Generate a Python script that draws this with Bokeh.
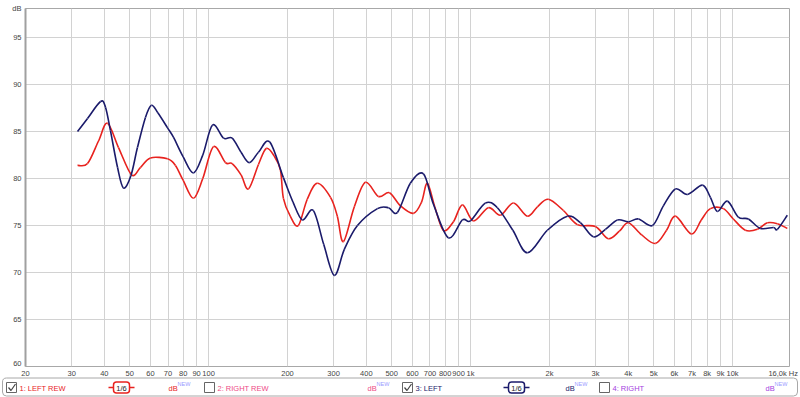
import math
from bokeh.plotting import figure
from bokeh.models import Range1d, FixedTicker, LinearScale
from bokeh.layouts import column
from bokeh.core.properties import value
from bokeh.embed import file_html
from bokeh.resources import INLINE

# ---------------- data ----------------
left_rew_freq = [31.6, 34.5, 38.0, 41.1, 45.3, 50.8, 55.0, 60.0, 69.7, 74.7, 80.0, 87.5, 95.0,
                 104.4, 116, 123, 133, 142, 155, 166, 178, 188, 193, 205, 220, 238, 260, 292, 310,
                 327, 360, 397, 445, 490, 540, 605, 650, 684, 730, 787, 860, 931, 1026, 1170,
                 1300, 1458, 1648, 1800, 1982, 2262, 2558, 2996, 3358, 3700, 4004, 4500, 5078,
                 5600, 6054, 6968, 7600, 8232, 9228, 10076, 11196, 12446, 13584, 14830, 16190]
left_rew_db = [81.4, 81.6, 84.0, 85.9, 83.3, 80.4, 81.2, 82.2, 82.1, 81.4, 79.8, 77.9, 80.0,
               83.4, 81.7, 81.6, 80.4, 78.9, 81.5, 83.2, 82.4, 80.9, 77.9, 76.0, 75.0, 77.8, 79.5,
               78.0, 76.0, 73.3, 77.0, 79.6, 78.1, 78.5, 77.1, 76.3, 77.5, 79.5, 77.0, 74.5, 75.4,
               77.2, 75.5, 76.9, 76.1, 77.4, 76.0, 77.0, 77.8, 76.6, 75.1, 74.9, 73.6, 74.4, 75.3,
               74.0, 73.1, 74.5, 76.0, 74.1, 75.6, 76.8, 76.8, 75.7, 74.5, 74.6, 75.3, 75.2, 74.7]

left_freq = [31.6, 34.5, 38.7, 40.4, 42.2, 44.9, 47.3, 50.5, 53.5, 57.4, 60.5, 64.0, 69.7, 73.4,
             80.0, 87.5, 95.0, 103.5, 114, 123, 133, 143, 155, 171, 193, 210, 228, 251, 275, 302,
             330, 370, 441, 486, 526, 589, 661, 721, 823, 931, 999, 1140, 1266, 1450, 1648,
             1964, 2342, 2626, 2944, 3272, 3636, 4004, 4374, 4944, 5446, 6054, 6728, 7674,
             8232, 8754, 9558, 10528, 11500, 12772, 14320, 14830, 16190]
left_db = [85.0, 86.4, 88.2, 87.6, 85.1, 81.2, 79.0, 80.3, 83.3, 86.5, 87.8, 87.0, 85.4, 84.4,
           82.3, 80.6, 82.5, 85.7, 84.3, 84.3, 82.8, 81.7, 82.8, 83.9, 80.1, 77.5, 75.6, 76.6,
           73.0, 69.7, 72.5, 75.0, 76.8, 76.9, 76.4, 79.5, 80.5, 77.3, 73.7, 75.6, 75.5, 77.4,
           76.9, 74.5, 72.1, 74.5, 76.0, 75.3, 73.8, 74.6, 75.6, 75.4, 75.7, 75.0, 77.1, 78.9,
           78.3, 79.3, 78.0, 76.5, 77.6, 75.9, 75.7, 74.7, 74.8, 74.6, 76.1]

x_ticks = [20, 30, 40, 50, 60, 70, 80, 90, 100, 200, 300, 400, 500, 600, 700, 800, 900,
           1000, 2000, 3000, 4000, 5000, 6000, 7000, 8000, 9000, 10000]
x_tick_labels = ["20", "30", "40", "50", "60", "70", "80", "90", "100", "200", "300", "400",
                 "500", "600", "700", "800", "900", "1k", "2k", "3k", "4k", "5k", "6k", "7k",
                 "8k", "9k", "10k"]
x_end_label = "16,0k Hz"
x_end_value = 16000
y_ticks = [60, 65, 70, 75, 80, 85, 90, 95]
y_unit = "dB"

legend_names = ["1: LEFT REW", "2: RIGHT REW", "3: LEFT", "4: RIGHT"]
legend_colors = ["#e8231f", "#ee4a86", "#1b1b6b", "#a43ee0"]
legend_checked = [True, False, True, False]

FONT = "Liberation Sans"

# geometry of the plotting frame (pixels)
FL, FR, FT, FB = 25, 789, 8, 366
F_MIN, F_MAX = 20, 16500
Y_MIN, Y_MAX = 60, 98.1


def smooth_segments(freqs, dbs):
    """Catmull-Rom control points (in log-frequency space) for a smooth curve through the points."""
    u = [math.log10(f) for f in freqs]
    n = len(u)
    x0, y0, x1, y1, cx0, cy0, cx1, cy1 = [], [], [], [], [], [], [], []
    for i in range(n - 1):
        a = max(i - 1, 0)
        b = min(i + 2, n - 1)
        x0.append(freqs[i]); y0.append(dbs[i])
        x1.append(freqs[i + 1]); y1.append(dbs[i + 1])
        cx0.append(10 ** (u[i] + (u[i + 1] - u[a]) / 6)); cy0.append(dbs[i] + (dbs[i + 1] - dbs[a]) / 6)
        cx1.append(10 ** (u[i + 1] - (u[b] - u[i]) / 6)); cy1.append(dbs[i + 1] - (dbs[b] - dbs[i]) / 6)
    return dict(x0=x0, y0=y0, x1=x1, y1=y1, cx0=cx0, cy0=cy0, cx1=cx1, cy1=cy1)


# ---------------- main plot ----------------
p = figure(width=800, height=FB + 1, x_axis_type="log",
           x_range=Range1d(F_MIN, F_MAX), y_range=Range1d(Y_MIN, Y_MAX),
           x_axis_location=None,
           min_border_left=FL, min_border_right=800 - FR, min_border_top=FT, min_border_bottom=1,
           output_backend="svg", toolbar_location=None)
p.frame_align = False
p.background_fill_color = "white"
p.border_fill_color = "white"
p.outline_line_color = "#a8a8a8"
p.outline_line_width = 1

yax = p.yaxis[0]
yax.ticker = FixedTicker(ticks=y_ticks + [Y_MAX])
yax.major_label_overrides = {Y_MAX: y_unit}
yax.major_tick_line_color = None
yax.minor_tick_line_color = None
yax.major_tick_out = 0
yax.major_tick_in = 0
yax.minor_tick_out = 0
yax.minor_tick_in = 0
yax.major_label_text_font = FONT
yax.major_label_text_font_size = "7.5px"
yax.major_label_text_color = "#444444"
yax.major_label_standoff = 4
yax.axis_line_color = "#a0a0a0"
yax.axis_line_width = 2

p.xgrid.ticker = FixedTicker(ticks=x_ticks)
p.ygrid.ticker = FixedTicker(ticks=y_ticks)
p.xgrid.grid_line_color = "#d2d2d2"
p.ygrid.grid_line_color = "#d2d2d2"

p.bezier(line_color=legend_colors[0], line_width=1.6, **smooth_segments(left_rew_freq, left_rew_db))
p.bezier(line_color=legend_colors[2], line_width=1.6, **smooth_segments(left_freq, left_db))

# ---------------- bottom strip: x tick labels + legend ----------------
H2 = 397 - (FB + 1)
px_per_decade = (FR - FL) / math.log10(F_MAX / F_MIN)
strip_fmin = F_MIN * 10 ** (-FL / px_per_decade)
strip_fmax = F_MIN * 10 ** ((800 - FL) / px_per_decade)
lf = figure(width=800, height=H2, x_axis_type="log",
            x_range=Range1d(strip_fmin, strip_fmax), y_range=Range1d(H2, 0),
            x_axis_location=None, y_axis_location=None,
            min_border=0, min_border_left=0, min_border_right=0, min_border_top=0,
            min_border_bottom=0, output_backend="svg", toolbar_location=None)
lf.frame_align = False
lf.extra_x_ranges = {"px": Range1d(0, 800)}
lf.extra_x_scales = {"px": LinearScale()}
lf.grid.visible = False
lf.outline_line_color = None
lf.background_fill_color = "white"
lf.border_fill_color = "white"

# x tick labels, placed through the strip's log scale (same scale as the plot)
lf.text(x=x_ticks, y=[6] * len(x_ticks), text=x_tick_labels, text_font=value(FONT),
        text_font_size="7.5px", text_color="#444444", text_align="center",
        text_baseline="middle")
lf.text(x=[x_end_value], y=[6], text=[x_end_label], x_offset=12, text_font=value(FONT),
        text_font_size="7.5px", text_color="#444444", text_align="right",
        text_baseline="middle")

# legend box
R = "px"
ly = 20
lf.quad(left=[2], right=[797], top=[10.5], bottom=[28.5], fill_color="white",
        line_color="#a8a8a8", line_width=1, border_radius=4, x_range_name=R)

item_x = [6, 204, 402, 599]
db_x = [168, 367, 565, 765]
for i in range(4):
    cx = item_x[i]
    lf.rect(x=[cx + 5], y=[ly], width=10, height=10, fill_color="white",
            line_color="#666666", line_width=1, x_range_name=R)
    if legend_checked[i]:
        lf.line([cx + 2, cx + 4.5, cx + 9], [ly, ly + 3, ly - 3.5], line_color="#444444",
                line_width=1.2, x_range_name=R)
    lf.text(x=[cx + 13], y=[ly + 0.5], text=[legend_names[i]], text_font=value(FONT),
            text_font_size="7.5px", text_color=legend_colors[i], text_baseline="middle",
            x_range_name=R)
    lf.text(x=[db_x[i]], y=[ly + 0.5], text=["dB"], text_font=value(FONT),
            text_font_size="7.5px", text_color=legend_colors[i], text_baseline="middle",
            x_range_name=R)
    lf.text(x=[db_x[i] + 9], y=[ly - 3.5], text=["NEW"], text_font=value(FONT),
            text_font_size="5.5px", text_color="#9a9aff", text_baseline="middle",
            x_range_name=R)

# smoothing badges "1/6" for the checked traces
for bx, col in ((121, legend_colors[0]), (516, legend_colors[2])):
    lf.line([bx - 13, bx + 13], [ly, ly], line_color=col, line_width=1.5, x_range_name=R)
    lf.rect(x=[bx], y=[ly], width=16, height=11, fill_color="white", line_color=col,
            line_width=1.5, border_radius=3, x_range_name=R)
    lf.text(x=[bx], y=[ly + 0.5], text=["1/6"], text_font=value(FONT), text_font_size="7.5px",
            text_color="#222222", text_align="center", text_baseline="middle", x_range_name=R)

layout = column(p, lf, spacing=0)
open("out.html", "w").write(file_html(layout, INLINE))
